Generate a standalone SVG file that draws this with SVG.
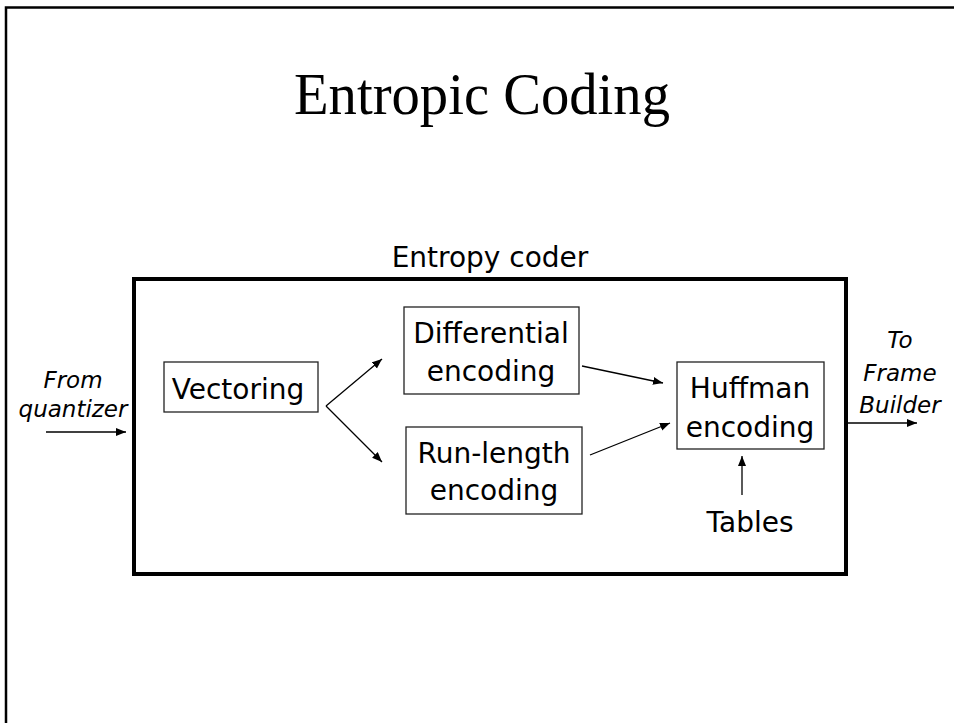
<svg xmlns="http://www.w3.org/2000/svg" width="954" height="723" viewBox="0 0 954 723">
<style>
.t{font-family:"DejaVu Sans","Liberation Sans",sans-serif;font-size:28px;fill:#000;text-anchor:middle}
.i{font-family:"DejaVu Sans","Liberation Sans",sans-serif;font-size:23px;font-style:italic;fill:#000;text-anchor:middle}
.box{fill:#fff;stroke:#222;stroke-width:1.3}
.c{stroke:#000;stroke-width:1.3;fill:none;marker-end:url(#ah)}
</style>
<defs>
<marker id="ah" markerUnits="userSpaceOnUse" markerWidth="12" markerHeight="10" refX="10" refY="4" orient="auto">
<path d="M0,0 L10,4 L0,8 Z" fill="#000"/>
</marker>
</defs>
<rect width="954" height="723" fill="#fff"/>
<path d="M6,723 V7.5 H954" fill="none" stroke="#000" stroke-width="2.5"/>
<text x="482" y="114" font-family="'Liberation Serif',serif" font-size="60" text-anchor="middle" textLength="376" lengthAdjust="spacingAndGlyphs">Entropic Coding</text>
<g id="entropy-coder">
<rect x="134" y="279" width="712" height="295" fill="none" stroke="#000" stroke-width="4"/>
<text class="t" x="490" y="267">Entropy coder</text>
</g>
<g id="vectoring">
<rect class="box" x="164" y="362" width="154" height="50"/>
<text class="t" x="238" y="399">Vectoring</text>
</g>
<g id="differential">
<rect class="box" x="404" y="307" width="175" height="87"/>
<text class="t" x="491" y="343">Differential</text>
<text class="t" x="491" y="381">encoding</text>
</g>
<g id="runlength">
<rect class="box" x="406" y="427" width="176" height="87"/>
<text class="t" x="494" y="463">Run-length</text>
<text class="t" x="494" y="500">encoding</text>
</g>
<g id="huffman">
<rect class="box" x="677" y="362" width="147" height="87"/>
<text class="t" x="750" y="398">Huffman</text>
<text class="t" x="750" y="437">encoding</text>
</g>
<g id="tables">
<text class="t" x="750" y="532">Tables</text>
</g>
<g id="from-quantizer">
<text class="i" x="73" y="388">From</text>
<text class="i" x="73" y="417">quantizer</text>
</g>
<g id="to-frame-builder">
<text class="i" x="900" y="348">To</text>
<text class="i" x="900" y="381">Frame</text>
<text class="i" x="900" y="413">Builder</text>
</g>
<g id="connectors">
<path class="c" d="M46,432 H126"/>
<path class="c" d="M326,406 L382,359"/>
<path class="c" d="M326,406 L382,462"/>
<path class="c" d="M582,366 L663,383"/>
<path class="c" d="M590,455 L670,423"/>
<path class="c" d="M742,495 V456"/>
<path class="c" d="M848,423 H917"/>
</g>
</svg>
